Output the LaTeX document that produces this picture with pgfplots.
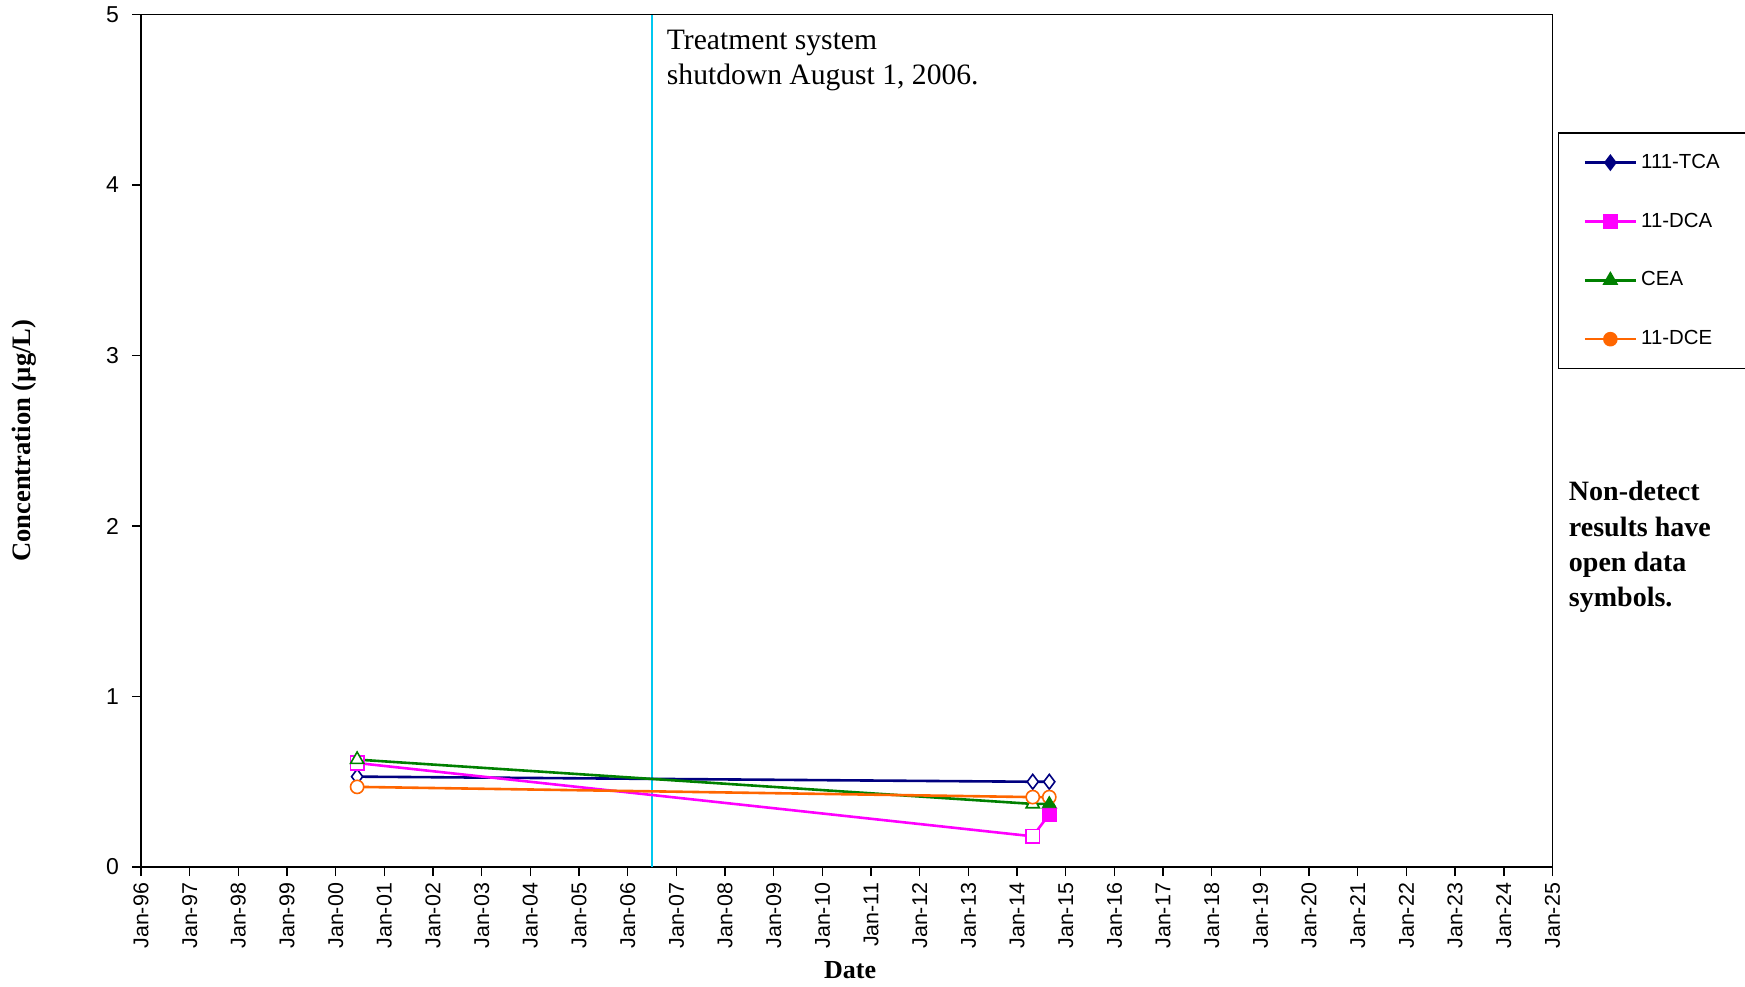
\documentclass[border=0pt]{standalone}
\usepackage{fontspec}
\setmainfont{Liberation Serif}
\newfontfamily\arial{Liberation Sans}
\usepackage{pgfplots}
\pgfplotsset{compat=1.18}
\definecolor{tca}{RGB}{0,0,128}
\definecolor{dca}{RGB}{255,0,255}
\definecolor{cea}{RGB}{0,128,0}
\definecolor{dce}{RGB}{255,102,0}
\definecolor{shut}{RGB}{0,200,240}
\begin{document}
\begin{tikzpicture}
\begin{axis}[
  scale only axis, width=705.8pt, height=426.25pt,
  xmin=1996, xmax=2025, ymin=0, ymax=5,
  xtick={1996,...,2025},
  xticklabels={Jan-96,Jan-97,Jan-98,Jan-99,Jan-00,Jan-01,Jan-02,Jan-03,Jan-04,Jan-05,Jan-06,Jan-07,Jan-08,Jan-09,Jan-10,Jan-11,Jan-12,Jan-13,Jan-14,Jan-15,Jan-16,Jan-17,Jan-18,Jan-19,Jan-20,Jan-21,Jan-22,Jan-23,Jan-24,Jan-25},
  ytick={0,1,2,3,4,5},
  /pgf/number format/assume math mode=true,
  tick align=outside, tick pos=left, major tick length=4.5pt,
  tick style={line width=0.7pt, black},
  axis line style={line width=0.7pt},
  xticklabel style={rotate=90, anchor=east, font=\arial\fontsize{10.7}{12}\selectfont},
  yticklabel style={font=\arial\fontsize{11.5}{13}\selectfont, xshift=-3pt},
  clip=false,
  legend image code/.code={\draw[mark repeat=2,mark phase=2,#1] plot coordinates {(0pt,0pt) (12.75pt,0pt) (25.5pt,0pt)};},
  legend style={at={(rel axis cs:1.0038,0.8617)}, anchor=north west, draw=black, line width=0.6pt,
    font=\arial\fontsize{10.2}{12}\selectfont, row sep=16.8pt, inner ysep=8.5pt, inner xsep=12.5pt,
    cells={anchor=west}},
]
% shutdown line
\addplot[shut, line width=1.1pt, forget plot] coordinates {(2006.5,0) (2006.5,5)};

% lines with open markers
\addplot[tca, line width=1.3pt, mark=diamond*, mark size=3.7pt, mark options={fill=white, line width=0.8pt, solid}, forget plot]
  coordinates {(2000.44,0.53) (2014.32,0.50) (2014.66,0.50)};
\addplot[dca, line width=1.3pt, mark=square*, mark size=3.4pt, mark options={fill=white, line width=0.8pt, solid}, forget plot]
  coordinates {(2000.44,0.61) (2014.32,0.18) (2014.66,0.31)};
\addplot[cea, line width=1.3pt, mark=triangle*, mark size=3.8pt, mark options={fill=white, line width=0.8pt, solid}, forget plot]
  coordinates {(2000.44,0.63) (2014.32,0.37) (2014.66,0.37)};
\addplot[dce, line width=1.3pt, mark=*, mark size=3.3pt, mark options={fill=white, line width=0.8pt, solid}, forget plot]
  coordinates {(2000.44,0.47) (2014.32,0.41) (2014.66,0.41)};

% filled (detected) markers
\addplot[dca, only marks, mark=square*, mark size=3.4pt, forget plot] coordinates {(2014.66,0.31)};
\addplot[cea, only marks, mark=triangle*, mark size=3.8pt, forget plot] coordinates {(2014.66,0.37)};

% legend
\addlegendimage{tca, line width=1.3pt, mark=diamond*, mark size=3.2pt, mark options={fill=tca}}
\addlegendentry{\makebox[70pt][l]{111-TCA}}
\addlegendimage{dca, line width=1.3pt, mark=square*, mark size=3pt, mark options={fill=dca}}
\addlegendentry{\makebox[70pt][l]{11-DCA}}
\addlegendimage{cea, line width=1.3pt, mark=triangle*, mark size=3.3pt, mark options={fill=cea}}
\addlegendentry{\makebox[70pt][l]{CEA}}
\addlegendimage{dce, line width=1.3pt, mark=*, mark size=3pt, mark options={fill=dce}}
\addlegendentry{\makebox[70pt][l]{11-DCE}}

\node[anchor=base west, font=\fontsize{14.8}{17}\selectfont, inner sep=0pt] at (axis description cs:0.3723,0.9585) {Treatment system};
\node[anchor=base west, font=\fontsize{14.8}{17}\selectfont, inner sep=0pt] at (axis description cs:0.3723,0.9180) {shutdown August 1, 2006.};

\node[anchor=base west, font=\bfseries\fontsize{14}{17}\selectfont, inner sep=0pt] at (axis description cs:1.0113,0.4298) {Non-detect};
\node[anchor=base west, font=\bfseries\fontsize{14}{17}\selectfont, inner sep=0pt] at (axis description cs:1.0113,0.3876) {results have};
\node[anchor=base west, font=\bfseries\fontsize{14}{17}\selectfont, inner sep=0pt] at (axis description cs:1.0113,0.3465) {open data};
\node[anchor=base west, font=\bfseries\fontsize{14}{17}\selectfont, inner sep=0pt] at (axis description cs:1.0113,0.3050) {symbols.};

\node[rotate=90, font=\bfseries\fontsize{13.3}{16}\selectfont] at (axis description cs:-0.0825,0.5) {Concentration (µg/L)};
\node[font=\bfseries\fontsize{13}{16}\selectfont] at (axis description cs:0.5023,-0.1208) {Date};
\end{axis}
\pgfresetboundingbox
\path (-70.5pt,-59.5pt) rectangle (802pt,433.5pt);
\end{tikzpicture}
\end{document}
